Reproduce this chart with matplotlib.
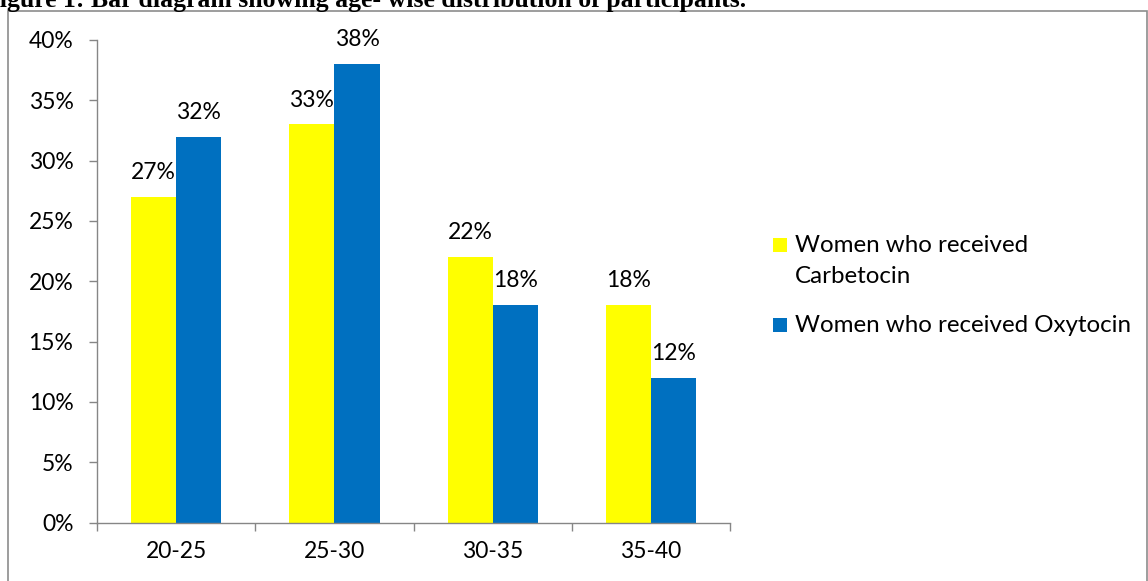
import matplotlib.pyplot as plt
import numpy as np
from matplotlib.patches import Rectangle

AGE_GROUPS = ["20-25", "25-30", "30-35", "35-40"]
CARBETOCIN = [27, 33, 22, 18]
OXYTOCIN = [32, 38, 18, 12]
SERIES_NAMES = [["Women who received", "Carbetocin"], ["Women who received Oxytocin"]]
YTICKS = [0, 5, 10, 15, 20, 25, 30, 35, 40]
TITLE = "Figure 1: Bar diagram showing age- wise distribution of participants."

YELLOW = "#FFFF00"
BLUE = "#0070C0"
AXIS = "#868686"
TEXT = "#000000"
FS = 16.5
W, H = 1148, 581

plt.rcParams["font.family"] = ["Lato", "DejaVu Sans"]

fig = plt.figure(figsize=(W / 100, H / 100), dpi=100)
ax = fig.add_axes([0.0845, 1 - 522.5 / H, 0.5515, 482.5 / H])

x = np.arange(len(AGE_GROUPS))
width = 0.285
b1 = ax.bar(x - width / 2, CARBETOCIN, width, color=YELLOW)
b2 = ax.bar(x + width / 2, OXYTOCIN, width, color=BLUE)

for bars, vals in ((b1, CARBETOCIN), (b2, OXYTOCIN)):
    for bar, v in zip(bars, vals):
        ax.annotate(f"{v}%", (bar.get_x() + bar.get_width() / 2, v),
                    xytext=(0, 10), textcoords="offset points",
                    ha="center", va="bottom", fontsize=FS, color=TEXT)

ax.set_xlim(-0.5, len(AGE_GROUPS) - 0.5)
ax.set_ylim(0, 40)
ax.set_yticks(YTICKS)
ax.set_yticklabels([f"{t}%" for t in YTICKS])
ax.set_xticks(x)
ax.set_xticklabels(AGE_GROUPS)
ax.set_xticks(np.arange(len(AGE_GROUPS) + 1) - 0.5, minor=True)
ax.tick_params(axis="x", which="major", length=0, pad=13, labelsize=FS, labelcolor=TEXT)
ax.tick_params(axis="x", which="minor", length=6, color=AXIS, width=1)
ax.tick_params(axis="y", length=6, color=AXIS, width=1, pad=11, labelsize=FS, labelcolor=TEXT)

for side in ("top", "right"):
    ax.spines[side].set_visible(False)
for side in ("left", "bottom"):
    ax.spines[side].set_color(AXIS)
    ax.spines[side].set_linewidth(1)

# legend drawn by hand: Excel puts the swatch beside the first line of a wrapped label
legend_rows = [(YELLOW, SERIES_NAMES[0], 245), (BLUE, SERIES_NAMES[1], 324.5)]
for color, lines, yc in legend_rows:
    fig.patches.append(Rectangle((773 / W, 1 - (yc + 7) / H), 14 / W, 14 / H,
                                 transform=fig.transFigure, facecolor=color,
                                 edgecolor="none"))
    for i, line in enumerate(lines):
        fig.text(795 / W, 1 - (yc + 7 + 31 * i) / H, line, fontsize=17.4,
                 color=TEXT, ha="left", va="baseline")

fig.patches.append(Rectangle((8 / W, -0.1), 1139 / W, 1 - 11 / H + 0.1,
                             transform=fig.transFigure, fill=False,
                             edgecolor="#8c8c8c", linewidth=1.2))

fig.text(-16 / W, 1 - 7.5 / H, TITLE, fontsize=18.5, fontweight="bold",
         family=["Liberation Serif", "DejaVu Serif"], ha="left", va="baseline")

fig.savefig("out.png", dpi=100)
